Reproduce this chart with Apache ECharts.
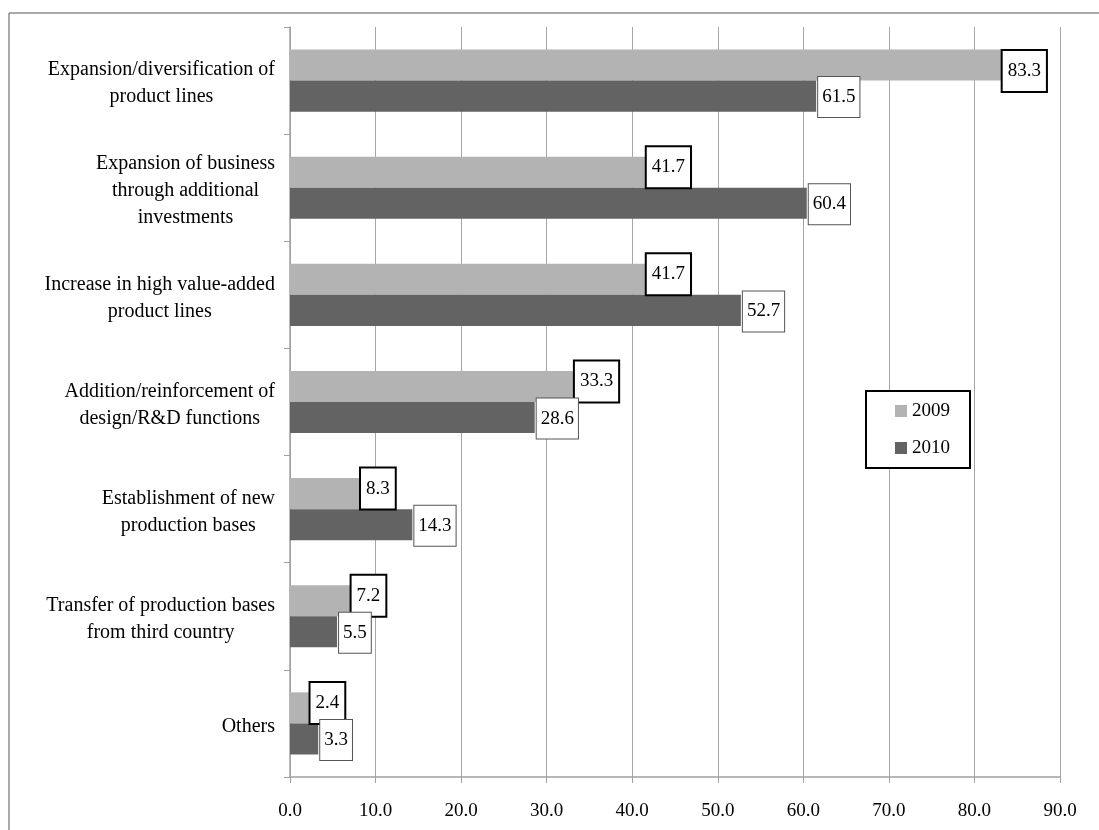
<!DOCTYPE html>
<html>
<head>
<meta charset="utf-8">
<script src="https://cdn.jsdelivr.net/npm/echarts@6/dist/echarts.min.js"></script>
<style>
html,body{margin:0;padding:0;background:#fff;}
#chart{width:1099px;height:830px;}
</style>
</head>
<body>
<div id="chart"></div>
<script>
var categories = [
  "Expansion/diversification of\nproduct lines",
  "Expansion of business\nthrough additional\ninvestments",
  "Increase in high value-added\nproduct lines",
  "Addition/reinforcement of\ndesign/R&D functions",
  "Establishment of new\nproduction bases",
  "Transfer of production bases\nfrom third country",
  "Others"
];
var seriesNames = ["2009", "2010"];
var values2009 = [83.3, 41.7, 41.7, 33.3, 8.3, 7.2, 2.4];
var values2010 = [61.5, 60.4, 52.7, 28.6, 14.3, 5.5, 3.3];
var xTicks = { min: 0, max: 90, interval: 10 };

var FONT = '"Liberation Serif", "Times New Roman", serif';
var chart = echarts.init(document.getElementById('chart'));

function labelStyle(thick, offY) {
  return {
    show: true,
    position: 'right',
    distance: thick ? 0 : 2,
    offset: [0, offY],
    formatter: function (p) { return p.value.toFixed(1); },
    color: '#000',
    fontFamily: FONT,
    fontSize: 19,
    lineHeight: 20,
    backgroundColor: '#fff',
    borderColor: thick ? '#000' : '#555',
    borderWidth: thick ? 2 : 1,
    padding: thick ? [10, 5] : [10, 4]
  };
}

// first 2009 label sits lower in the reference (layout tweak only)
var data2009 = values2009.map(function (v, i) {
  return i === 0 ? { value: v, label: { offset: [0, 6] } } : v;
});

chart.setOption({
  animation: false,
  backgroundColor: '#fff',
  graphic: [
    { type: 'line', shape: { x1: 9, y1: 13, x2: 1099, y2: 13 }, style: { stroke: '#8c8c8c', lineWidth: 1.5 } },
    { type: 'line', shape: { x1: 9, y1: 13, x2: 9, y2: 830 }, style: { stroke: '#8c8c8c', lineWidth: 1.5 } }
  ],
  grid: { left: 290, right: 39, top: 27, bottom: 53, containLabel: false },
  legend: {
    data: seriesNames,
    orient: 'vertical',
    left: 866,
    top: 391,
    backgroundColor: '#fff',
    borderColor: '#000',
    borderWidth: 2,
    padding: [10, 20, 10, 29],
    itemGap: 17,
    itemWidth: 12,
    itemHeight: 12,
    icon: 'rect',
    textStyle: { fontFamily: FONT, fontSize: 19, color: '#000', lineHeight: 20 }
  },
  xAxis: {
    type: 'value',
    min: xTicks.min,
    max: xTicks.max,
    interval: xTicks.interval,
    axisLine: { show: true, lineStyle: { color: '#a0a0a0', width: 1.5 } },
    axisTick: { show: true, length: 6, lineStyle: { color: '#a0a0a0' } },
    axisLabel: {
      formatter: function (v) { return v.toFixed(1); },
      fontFamily: FONT, fontSize: 19, color: '#000', margin: 25
    },
    splitLine: { show: true, lineStyle: { color: '#a6a6a6', width: 1 } }
  },
  yAxis: {
    type: 'category',
    data: categories,
    inverse: true,
    axisLine: { show: true, lineStyle: { color: '#a0a0a0', width: 1.5 } },
    axisTick: { show: true, length: 6, lineStyle: { color: '#a0a0a0' } },
    axisLabel: {
      margin: 15,
      padding: [6, 0, 0, 0],
      formatter: function (v) {
        return v.split('\n').map(function (l) { return '{c|' + l + '}'; }).join('\n');
      },
      rich: {
        c: { align: 'center', fontFamily: FONT, fontSize: 20, lineHeight: 27, color: '#000' }
      }
    }
  },
  series: [
    {
      name: seriesNames[0],
      type: 'bar',
      data: data2009,
      barGap: '0%',
      barCategoryGap: '42%',
      itemStyle: { color: '#b3b3b3' },
      label: labelStyle(true, -5)
    },
    {
      name: seriesNames[1],
      type: 'bar',
      data: values2010,
      barGap: '0%',
      barCategoryGap: '42%',
      itemStyle: { color: '#636363' },
      label: labelStyle(false, 1)
    }
  ]
});
</script>
</body>
</html>
